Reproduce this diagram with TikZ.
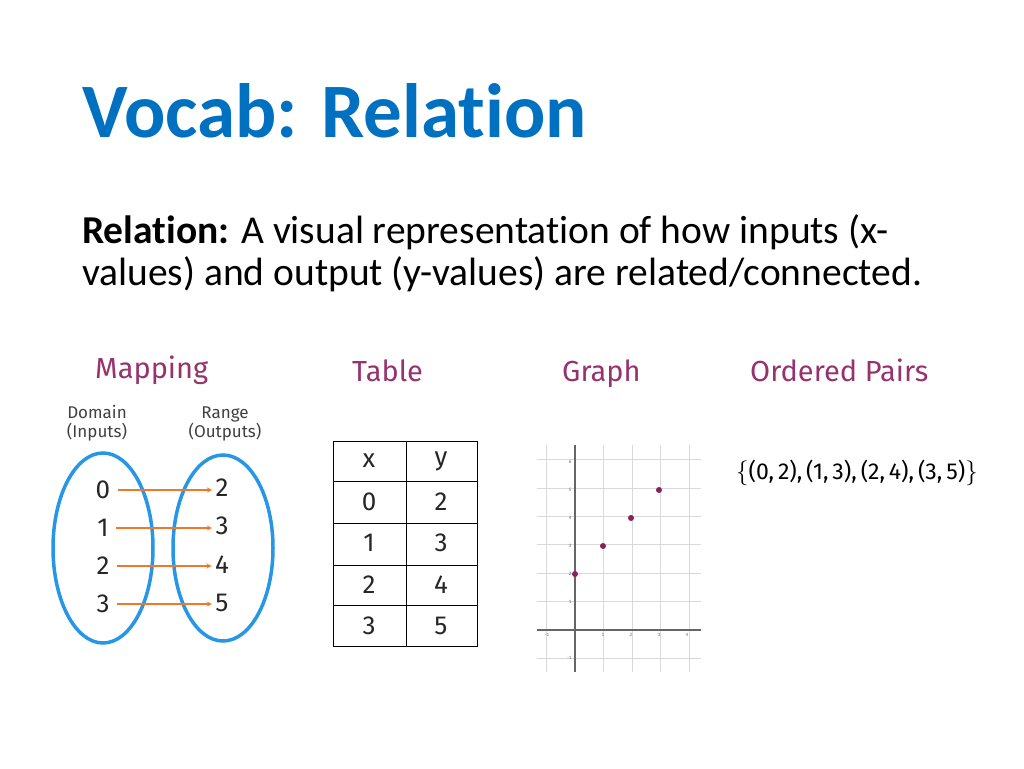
\documentclass[tikz,border=0pt]{standalone}
\usepackage{fontspec}
\setmainfont{Carlito}[Ligatures=NoCommon]
\newfontfamily\labfont{Fira Sans}
\usetikzlibrary{positioning}
\definecolor{titleblue}{RGB}{0,112,192}
\definecolor{ringblue}{RGB}{40,150,230}
\definecolor{headpurple}{RGB}{150,50,110}
\definecolor{arrorange}{RGB}{240,120,40}
\definecolor{dotpurple}{RGB}{140,30,90}
\begin{document}
\begin{tikzpicture}[x=1pt,y=-1pt,
  head/.style={font=\labfont\fontsize{29}{34}\selectfont, text=headpurple, anchor=base west, inner sep=0},
  num/.style={font=\labfont\fontsize{26}{30}\selectfont, text=black!85},
  small/.style={font=\labfont\fontsize{17}{19}\selectfont, align=center, text=black!75},
  map/.style={->, >=stealth, arrorange, line width=1.3pt}]
  \useasboundingbox (0,0) rectangle (1024,768);

  % title and definition
  \node[anchor=base west, inner sep=0, text=titleblue, font=\fontsize{77}{80}\selectfont\bfseries] (title) at (82,137) {Vocab: Relation};
  \node[anchor=base west, inner sep=0, font=\fontsize{39.5}{44}\selectfont] (def1) at (82,243) {\textbf{Relation:} A visual representation of how inputs (x-};
  \node[anchor=base west, inner sep=0, font=\fontsize{39.5}{44}\selectfont] (def2) at (82,285) {values) and output (y-values) are related/connected.};

  % headings
  \node[head] (hmap) at (95,378) {Mapping};
  \node[head] (htab) at (352,381) {Table};
  \node[head] (hgra) at (562,381) {Graph};
  \node[head] (hord) at (750,381) {Ordered Pairs};

  % mapping
  \node[small] (dom) at (97,423) {Domain\\(Inputs)};
  \node[small] (ran) at (225,424) {Range\\(Outputs)};
  \draw[ringblue, line width=3.5pt] (103,548) ellipse [x radius=50, y radius=95];
  \draw[ringblue, line width=3.5pt] (223,548) ellipse [x radius=50, y radius=93];
  \foreach \a/\b [count=\i] in {0/2,1/3,2/4,3/5} {
    \node[num] (in\i) at (103,{452+38*\i}) {\a};
    \node[num] (out\i) at (222,{449+38.5*\i}) {\b};
    \draw[map] (in\i.east) ++(4,0) coordinate (s\i) -- (s\i -| out\i.west);
  }

  % table
  \draw[line width=1pt] (333,441) rectangle (477,646);
  \draw[line width=1pt] (406,441) -- (406,646);
  \foreach \yy in {481,523,565,605} \draw[line width=1pt] (333,\yy) -- (477,\yy);
  \node[num] (tx) at (369,461) {x};
  \node[num] (ty) at (441,461) {y};
  \foreach \a/\b [count=\i] in {0/2,1/3,2/4,3/5} {
    \node[num] (ta\i) at (369,{460+41.5*\i}) {\a};
    \node[num] (tb\i) at (441,{460+41.5*\i}) {\b};
  }

  % graph
  \begin{scope}[shift={(575,630)}, x=28pt, y=28pt]
    \draw[black!15] (-1.35,-1.5) grid (4.5,6.6);
    \draw[black!60, line width=1.2pt] (-1.35,0) -- (4.5,0);
    \draw[black!60, line width=1.2pt] (0,-1.5) -- (0,6.6);
    \foreach \v in {-1,1,2,3,4} \node[font=\fontsize{5}{6}\selectfont, text=black!60, below] at (\v,0) {\v};
    \foreach \v in {-1,1,2,3,4,5,6} \node[font=\fontsize{5}{6}\selectfont, text=black!60, left] at (0,\v) {\v};
    \foreach \p/\q in {0/2,1/3,2/4,3/5} \fill[dotpurple] (\p,\q) circle (3pt);
  \end{scope}

  % ordered pairs
  \node[anchor=west, inner sep=0, font=\labfont\fontsize{23}{27}\selectfont] (pairs) at (736,473) {$\biggl\{$(0,\,2),\,(1,\,3),\,(2,\,4),\,(3,\,5)$\biggr\}$};
\end{tikzpicture}
\end{document}
